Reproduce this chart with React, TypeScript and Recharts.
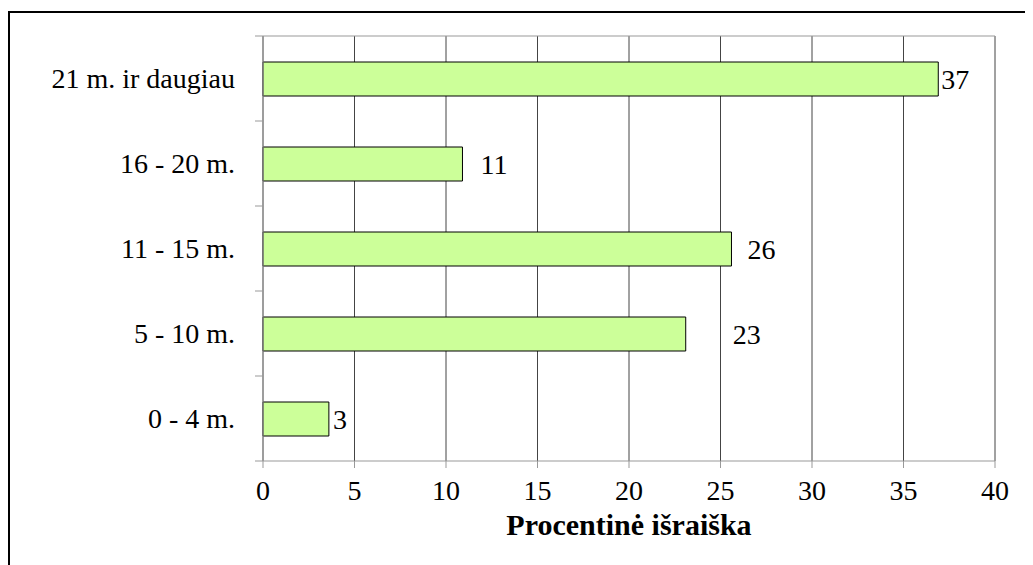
import { BarChart, Bar, XAxis, YAxis, CartesianGrid, LabelList } from "recharts";

const CATEGORIES = ["21 m. ir daugiau", "16 - 20 m.", "11 - 15 m.", "5 - 10 m.", "0 - 4 m."];
const VALUES = [36.9, 10.9, 25.6, 23.1, 3.6];
const LABELS = ["37", "11", "26", "23", "3"];
const X_TICKS = [0, 5, 10, 15, 20, 25, 30, 35, 40];

// label spacing after the bar end, as in the original
const LABEL_GAP = [3, 18, 16, 47, 4];

const data = CATEGORIES.map((name, i) => ({ name, value: VALUES[i], label: LABELS[i] }));

const FONT = "Liberation Serif, Times New Roman, Times, DejaVu Serif, serif";
const W = 1025;
const H = 557;
const PLOT_LEFT = 255;
const PLOT_TOP = 28;
const PLOT_BOTTOM = 453;
const BAND = (PLOT_BOTTOM - PLOT_TOP) / CATEGORIES.length;

function YTick(props: any) {
  const { y, payload, index } = props;
  return (
    <g>
      <text
        x={PLOT_LEFT - 28}
        y={y}
        dy="0.35em"
        textAnchor="end"
        style={{ fontSize: 28, fontFamily: FONT }}
        fill="#000"
      >
        {payload.value}
      </text>
      <line x1={PLOT_LEFT - 8} x2={PLOT_LEFT} y1={y - BAND / 2} y2={y - BAND / 2} stroke="#999" />
      {index === CATEGORIES.length - 1 && (
        <line x1={PLOT_LEFT - 8} x2={PLOT_LEFT} y1={y + BAND / 2} y2={y + BAND / 2} stroke="#999" />
      )}
    </g>
  );
}

function ValueLabel(props: any) {
  const { x, y, width, height, index, value } = props;
  return (
    <text
      x={x + width + LABEL_GAP[index]}
      y={y + height / 2}
      dy="0.35em"
      style={{ fontSize: 28, fontFamily: FONT }}
      fill="#000"
    >
      {value}
    </text>
  );
}

export default function App() {
  return (
    <div style={{ position: "relative", width: W, height: H, overflow: "hidden", fontFamily: FONT }}>
      <div
        style={{
          position: "absolute",
          left: 0,
          top: 3,
          width: W - 8,
          height: H - 3,
          borderTop: "2px solid #000",
          borderLeft: "2px solid #000",
          boxSizing: "border-box",
        }}
      />
      <div style={{ position: "absolute", left: 0, top: 0 }}>
        <BarChart
          width={W}
          height={H}
          data={data}
          layout="vertical"
          margin={{ top: PLOT_TOP, right: 38, left: 0, bottom: 24 }}
          style={{ fontFamily: FONT }}
        >
          <CartesianGrid horizontal={false} stroke="#444" />
          <CartesianGrid vertical={false} horizontalPoints={[PLOT_TOP]} stroke="#999" />
          <XAxis
            type="number"
            domain={[0, 40]}
            ticks={X_TICKS}
            height={80}
            tickSize={7}
            tickMargin={12}
            axisLine={{ stroke: "#999" }}
            tickLine={{ stroke: "#999" }}
            tick={{ fontSize: 28, fontFamily: FONT, fill: "#000" }}
            label={{
              value: "Procentinė išraiška",
              position: "insideBottom",
              offset: 6,
              style: { fontSize: 30, fontWeight: "bold", fontFamily: FONT, fill: "#000" },
            }}
          />
          <YAxis
            type="category"
            dataKey="name"
            width={PLOT_LEFT}
            interval={0}
            tickLine={false}
            axisLine={{ stroke: "#999" }}
            tick={<YTick />}
          />
          <Bar dataKey="value" fill="#ccff99" stroke="#000" strokeWidth={1} barSize={34} isAnimationActive={false}>
            <LabelList dataKey="label" content={<ValueLabel />} />
          </Bar>
        </BarChart>
      </div>
    </div>
  );
}
